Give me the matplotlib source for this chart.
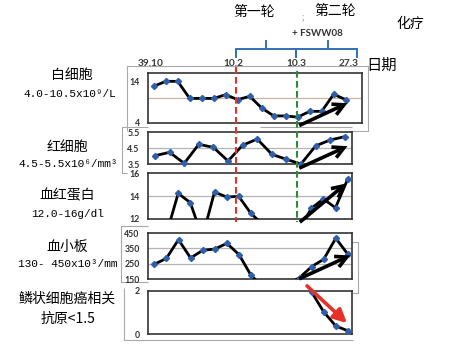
import matplotlib
matplotlib.use("Agg")
import matplotlib.pyplot as plt
import numpy as np
from matplotlib.patches import FancyArrowPatch

plt.rcParams['font.family'] = ['Noto Sans CJK SC', 'DejaVu Sans']

W, H = 468, 363

# values, one per sample along the date axis
wbc = [12.8, 14.0, 14.0, 9.9, 9.9, 9.9, 10.8, 9.6, 10.4, 7.6, 5.7, 5.7, 5.4, 6.8, 6.8, 10.9, 9.6]
rbc = [4.02, 4.23, 3.54, 4.73, 4.54, 3.69, 4.67, 5.06, 4.11, 3.79, 3.5, 4.63, 5.0, 5.21]
hb = [10.5, 10.6, 14.23, 13.42, 10.4, 14.35, 13.91, 13.97, 12.5, 11.5, 11.0, 11.2, 11.0, 12.93, 13.74, 12.98, 15.45]
plt_cnt = [247, 286, 407, 288, 338, 346, 383, 310, 175, 100, 110, 120, 160, 232, 280, 416, 312]
scc_idx = [13, 14, 15, 16]
scc = [1.95, 1.03, 0.37, 0.15]

dates = ["39.10", "10.2", "10.3", "27.3"]
names = ["白细胞", "红细胞", "血红蛋白", "血小板", "鳞状细胞癌相关"]
ranges = ["4.0-10.5x10⁹/L", "4.5-5.5x10⁶/mm³", "12.0-16g/dl", "130- 450x10³/mm", "抗原<1.5"]

BLUE = '#2f5fa8'
FRAME = '#a9a9a9'

fig = plt.figure(figsize=(W / 100, H / 100), dpi=100)


def px_axes(x0, y0, x1, y1):
    return fig.add_axes([x0 / W, 1 - y1 / H, (x1 - x0) / W, (y1 - y0) / H])


# background layer for the grey chart frames
bg = px_axes(0, 0, W, H)
bg.set_xlim(0, W)
bg.set_ylim(H, 0)
bg.axis('off')
bg.set_zorder(0)


def poly(ax, pts, **kw):
    xs, ys = zip(*pts)
    ax.plot(xs, ys, **kw)


fr = dict(color=FRAME, lw=0.8, solid_capstyle='butt')
poly(bg, [(127, 131), (127, 66), (368, 66), (368, 131), (352, 131)], **fr)
poly(bg, [(148, 127), (122, 127), (122, 173), (127, 173)], **fr)
poly(bg, [(260, 127), (352, 127)], **fr)
poly(bg, [(148, 226), (121, 226), (121, 282), (148, 282)], **fr)
poly(bg, [(352, 241.7), (358.3, 241.7), (358.3, 293.3), (352, 293.3)], **fr)
poly(bg, [(124.3, 288), (124.3, 340), (353, 340)], **fr)

# panels: pixel box, first point px, step px, ylim, ticks, grid lines
panels = [
    (wbc, None, (148, 73, 362, 123), 153.7, 12.0, (4, 16), [4, 14], ['4', '14'], [10], '#cfb2a2', False),
    (rbc, None, (148, 132, 352, 164), 155.0, 14.6, (3.5, 5.5), [3.5, 4.5, 5.5], ['3.5', '4.5', '5.5'], [4.5], '#b5b5b5', False),
    (hb, None, (148, 173, 352, 219), 154.0, 12.1, (12, 16), [12, 14, 16], ['12', '14', '16'], [14], '#b5b5b5', True),
    (plt_cnt, None, (148, 233, 352, 279.3), 154.3, 12.1, (150, 450), [150, 250, 350, 450], ['150', '250', '350', '450'], [250, 350], '#b5b5b5', True),
    (scc, scc_idx, (148, 291, 352, 334), 154.3, 12.1, (0, 2), [0, 2], ['0', '2'], [], '#b5b5b5', True),
]

for vals, idx, box, first, step, ylim, ticks, tlabels, grid, gcol, clip in panels:
    x0, y0, x1, y1 = box
    ax = px_axes(*box)
    ax.set_zorder(2)
    ax.set_facecolor('white')
    xs = np.arange(len(vals)) if idx is None else np.array(idx)
    for g in grid:
        ax.axhline(g, color=gcol, lw=0.9, zorder=0)
    ax.plot(xs, vals, color='black', lw=2.0, marker='D', ms=3.1,
            mfc=BLUE, mec=BLUE, clip_on=clip, zorder=3)
    ax.set_xlim((x0 - first) / step, (x1 - first) / step)
    ax.set_ylim(*ylim)
    ax.set_xticks([])
    ax.set_yticks(ticks)
    ax.set_yticklabels(tlabels, fontfamily='Lato', fontweight='bold', fontsize=6.3, color='#333333')
    ax.tick_params(axis='y', length=0, pad=6)
    for s in ax.spines.values():
        s.set_color('#333333')
        s.set_linewidth(1.2)

# foreground layer: markers of the treatment periods, trend arrows, texts
fg = px_axes(0, 0, W, H)
fg.set_xlim(0, W)
fg.set_ylim(H, 0)
fg.axis('off')
fg.set_zorder(5)
fg.patch.set_alpha(0)

fg.plot([236, 236], [67, 222], color='#e0332b', lw=1.5, ls=(0, (3.2, 1.6)))
fg.plot([296.5, 296.5], [71, 222], color='#2e8b3c', lw=1.5, ls=(0, (3.2, 1.6)))

br = dict(color='#3270ba', lw=1.4, solid_joinstyle='miter')
poly(fg, [(236, 57), (236, 49), (296, 49), (296, 57)], **br)
poly(fg, [(296, 57), (296, 49), (357, 49), (357, 57)], **br)
poly(fg, [(265.7, 41), (265.7, 49)], **br)
poly(fg, [(328.3, 41), (328.3, 49)], **br)

for tail, head in [((296.7, 126.7), (350, 102)), ((296.7, 169.3), (350, 145)),
                   ((297.7, 224), (348.3, 181.7)), ((296.7, 280), (352.7, 254.3))]:
    fg.add_patch(FancyArrowPatch(tail, head, arrowstyle='->,head_length=0.8,head_width=0.42',
                                 mutation_scale=10, color='black', lw=2.6,
                                 capstyle='butt', joinstyle='miter'))
fg.add_patch(FancyArrowPatch((305, 284), (349, 325), arrowstyle='-|>,head_length=0.8,head_width=0.4',
                             mutation_scale=10, color='#e5312a', lw=2.6))

fg.text(254, 12, "第一轮", fontsize=10, ha='center', va='center')
fg.text(335.5, 11, "第二轮", fontsize=10, ha='center', va='center')
fg.text(410, 24, "化疗", fontsize=10, ha='center', va='center')
fg.text(303, 17, ";", fontsize=6, color='#777777', ha='center', va='center')
fg.text(317, 33, "+ FSWW08", fontsize=7, fontfamily='Lato', fontweight='bold',
        color='#333333', ha='center', va='center')
fg.text(382, 65, "日期", fontsize=11, ha='center', va='center')
for lab, x in zip(dates, [151, 233.5, 296.5, 349]):
    fg.text(x, 64, lab, fontsize=7.3, fontfamily='Lato', fontweight='bold',
            color='#3a3a3a', ha='center', va='center')

mono = ['Liberation Mono', 'DejaVu Sans Mono']
name_y = [75, 146.5, 195, 247, 299]
range_y = [94, 164, 214, 264.3, 319.3]
name_x = [72, 67, 67, 67.5, 67]
for i in range(5):
    fg.text(name_x[i], name_y[i], names[i], fontsize=10, ha='center', va='center')
    fam = ['Noto Sans CJK SC', 'DejaVu Sans'] if i == 4 else mono
    fg.text(70 if i == 0 else 68, range_y[i], ranges[i], fontsize=8 if i < 4 else 10,
            family=fam, ha='center', va='center')

fig.savefig('out.png', dpi=100)
